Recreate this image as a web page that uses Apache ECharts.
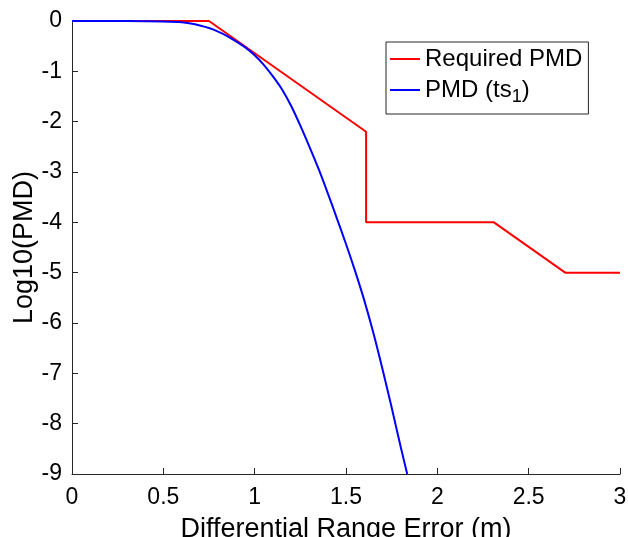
<!DOCTYPE html>
<html>
<head>
<meta charset="utf-8">
<script src="https://cdn.jsdelivr.net/npm/echarts@6/dist/echarts.min.js"></script>
<style>
  html, body { margin: 0; padding: 0; background: #fff; }
  #chart { width: 628px; height: 537px; }
</style>
</head>
<body>
<div id="chart"></div>
<script>
// required PMD (piecewise line)
var reqX = [0, 0.75, 1.61, 1.61, 2.31, 2.7, 3];
var reqY = [0, 0, -2.2, -4, -4, -5, -5];

// PMD (ts1)
var pmdX = [0, 0.2, 0.4, 0.5, 0.6, 0.65, 0.7, 0.75, 0.8, 0.85, 0.9, 0.95, 1.0, 1.05, 1.1, 1.15, 1.2, 1.25, 1.3, 1.35, 1.4, 1.45, 1.5, 1.55, 1.6, 1.65, 1.7, 1.75, 1.8, 1.835];
var pmdY = [0, 0, -0.005, -0.01, -0.025, -0.05, -0.09, -0.14, -0.21, -0.3, -0.41, -0.53, -0.68, -0.87, -1.1, -1.36, -1.69, -2.08, -2.5, -2.94, -3.42, -3.92, -4.43, -4.97, -5.55, -6.2, -6.92, -7.68, -8.47, -9];

function pairs(xs, ys) {
  var out = [];
  for (var i = 0; i < xs.length; i++) out.push([xs[i], ys[i]]);
  return out;
}

var chart = echarts.init(document.getElementById('chart'));
var font = 'Liberation Sans, Arial, Helvetica, sans-serif';

var option = {
  animation: false,
  backgroundColor: '#fff',
  grid: { left: 72, right: 8, top: 21, bottom: 63, outerBoundsMode: 'none', containLabel: false },
  legend: {
    left: 386, top: 42,
    orient: 'vertical',
    backgroundColor: '#fff',
    borderColor: '#262626', borderWidth: 1,
    padding: [5, 6, 8, 4],
    itemGap: 7,
    itemWidth: 30, itemHeight: 2,
    icon: 'rect',
    data: ['Required PMD', 'PMD (ts1)'],
    formatter: function (name) {
      if (name === 'PMD (ts1)') return '{a|PMD (ts}{s|1}{a|)}';
      return '{a|' + name + '}';
    },
    textStyle: {
      color: '#000', fontFamily: font, fontSize: 24,
      rich: {
        a: { fontSize: 24, fontFamily: font, color: '#000', height: 26 },
        s: { fontSize: 18, fontFamily: font, color: '#000', padding: [14, 0, 0, 0], height: 26 }
      }
    }
  },
  xAxis: {
    type: 'value', min: 0, max: 3, interval: 0.5,
    name: 'Differential Range Error (m)',
    nameLocation: 'middle', nameGap: 42, nameMoveOverlap: false,
    nameTextStyle: { color: '#000', fontFamily: font, fontSize: 27 },
    axisLine: { show: true, onZero: false, lineStyle: { color: '#262626', width: 1 } },
    axisTick: { show: true, inside: true, length: 6, lineStyle: { color: '#262626' } },
    axisLabel: {
      color: '#000', fontFamily: font, fontSize: 23, margin: 12,
      formatter: function (v) { return String(v); }
    },
    splitLine: { show: false }
  },
  yAxis: {
    type: 'value', min: -9, max: 0, interval: 1,
    name: 'Log10(PMD)',
    nameLocation: 'middle', nameGap: 34, nameRotate: 90, nameMoveOverlap: false,
    nameTextStyle: { color: '#000', fontFamily: font, fontSize: 27 },
    axisLine: { show: true, onZero: false, lineStyle: { color: '#262626', width: 1 } },
    axisTick: { show: true, inside: true, length: 6, lineStyle: { color: '#262626' } },
    axisLabel: { color: '#000', fontFamily: font, fontSize: 23, margin: 10 },
    splitLine: { show: false }
  },
  series: [
    {
      name: 'Required PMD', type: 'line', showSymbol: false, symbol: 'none',
      data: pairs(reqX, reqY),
      lineStyle: { color: '#ff0000', width: 2 }, itemStyle: { color: '#ff0000' },
      z: 3
    },
    {
      name: 'PMD (ts1)', type: 'line', showSymbol: false, symbol: 'none',
      smooth: 0.3,
      data: pairs(pmdX, pmdY),
      lineStyle: { color: '#0000ff', width: 2 }, itemStyle: { color: '#0000ff' },
      z: 4
    }
  ]
};
chart.setOption(option);
</script>
</body>
</html>
